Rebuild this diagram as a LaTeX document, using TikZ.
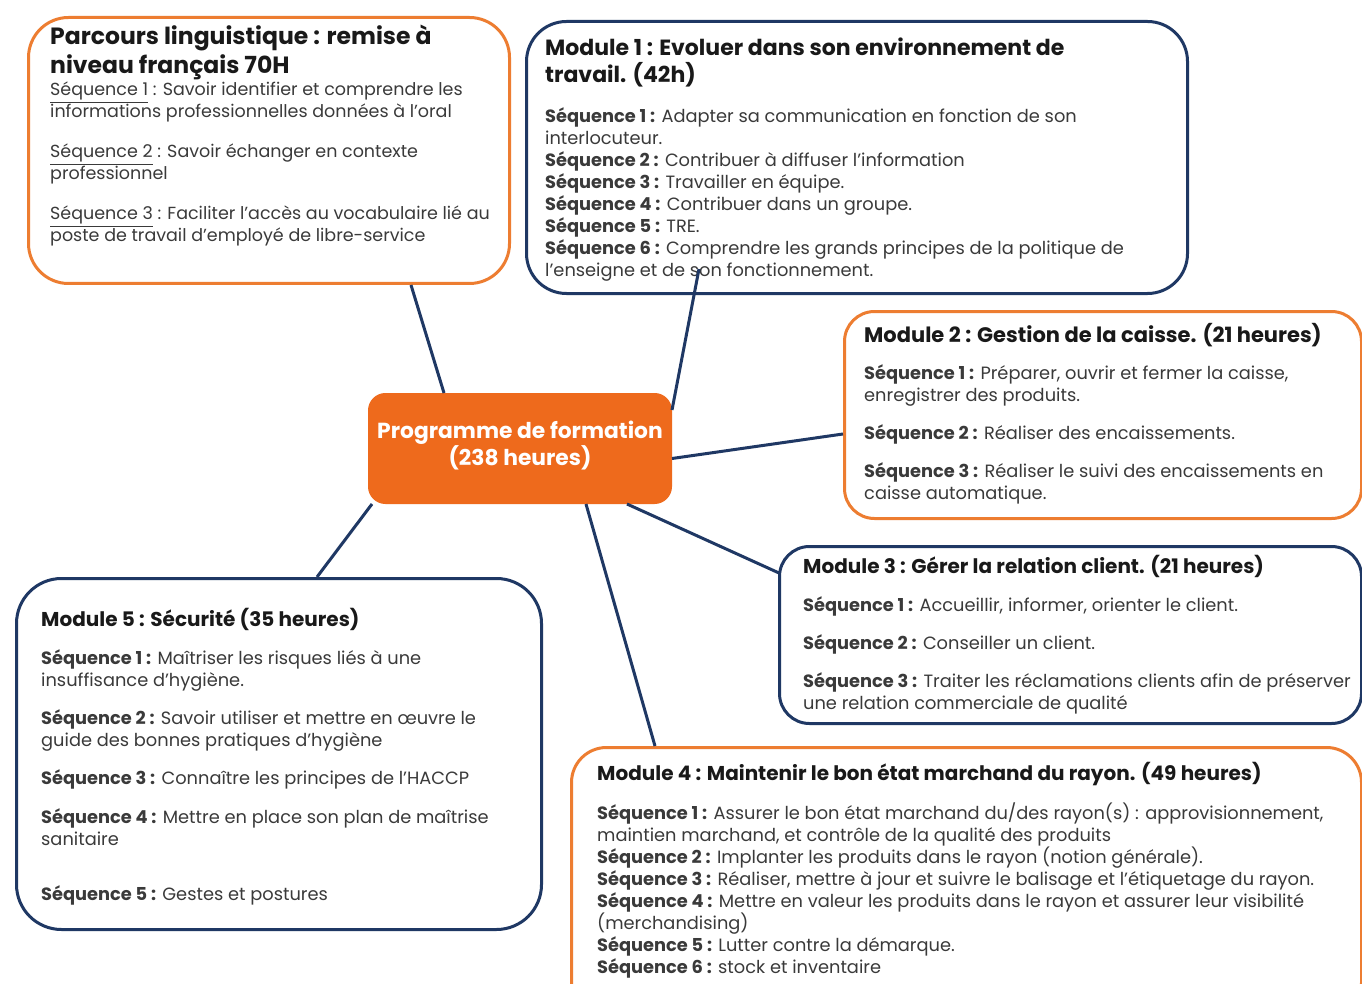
\documentclass[tikz,border=0pt]{standalone}
\usepackage{fontspec}
\setmainfont{Poppins}
\usetikzlibrary{positioning}
\definecolor{orng}{RGB}{237,125,49}
\definecolor{navy}{RGB}{31,56,100}
\definecolor{prog}{RGB}{238,106,28}
\definecolor{ink}{RGB}{58,58,58}
\newcommand{\seq}[1]{\textbf{Séquence #1 :}}
\newcommand{\useq}[1]{\underline{Séquence #1} :}
\tikzset{
  module/.style={draw, line width=3pt, fill=white, inner sep=0pt, anchor=north west},
  orbox/.style={module, draw=orng},
  blbox/.style={module, draw=navy},
  title/.style={anchor=north west, inner sep=0pt, align=left, text=black!90,
    font=\bfseries\fontsize{20}{27}\selectfont},
  body/.style={anchor=north west, inner sep=0pt, align=left, text=ink,
    font=\fontsize{17.8}{22}\selectfont},
  link/.style={draw=navy, line width=3pt},
}

\begin{document}
\begin{tikzpicture}[x=1pt,y=-1pt]
\useasboundingbox (0,0) rectangle (1362,984);
\clip (0,0) rectangle (1362,984);
\fill[white] (0,0) rectangle (1362,984);

% boxes
\node[orbox, rounded corners=40pt, minimum width=481pt, minimum height=266pt] (parcours) at (27,16) {};
\node[blbox, rounded corners=40pt, minimum width=661pt, minimum height=272pt] (m1) at (525,20) {};
\node[orbox, rounded corners=30pt, minimum width=517pt, minimum height=207pt] (m2) at (843,310) {};
\node[blbox, rounded corners=30pt, minimum width=582pt, minimum height=177pt] (m3) at (778,545) {};
\node[orbox, rounded corners=35pt, minimum width=790pt, minimum height=270pt] (m4) at (570,746) {};
\node[blbox, rounded corners=45pt, minimum width=525pt, minimum height=351pt] (m5) at (15,577) {};
\node[module, draw=prog, fill=prog, rounded corners=16pt, minimum width=301pt, minimum height=108pt] (prog) at (368,393) {};

% texts
\node[title, font=\bfseries\fontsize{23.5}{29}\selectfont] (parcours-t) at ([shift={(23,9)}]parcours.north west)
  {Parcours linguistique : remise à\\niveau français 70H};
\node[body, font=\fontsize{17.5}{22}\selectfont] (parcours-b) at ([shift={(23,66)}]parcours.north west)
  {\useq{1} Savoir identifier et comprendre les\\
   informations professionnelles données à l’oral\\[18pt]
   \useq{2} Savoir échanger en contexte\\
   professionnel\\[18pt]
   \useq{3} Faciliter l’accès au vocabulaire lié au\\
   poste de travail d’employé de libre-service};

\node[title, font=\bfseries\fontsize{22}{27}\selectfont] (m1-t) at ([shift={(20,18)}]m1.north west)
  {Module 1 : Evoluer dans son environnement de\\travail. (42h)};
\node[body] (m1-b) at ([shift={(20,87)}]m1.north west)
  {\seq{1} Adapter sa communication en fonction de son\\
   interlocuteur.\\
   \seq{2} Contribuer à diffuser l’information\\
   \seq{3} Travailler en équipe.\\
   \seq{4} Contribuer dans un groupe.\\
   \seq{5} TRE.\\
   \seq{6} Comprendre les grands principes de la politique de\\
   l’enseigne et de son fonctionnement.};

\node[title, font=\bfseries\fontsize{21}{27}\selectfont] (m2-t) at ([shift={(21,13)}]m2.north west)
  {Module 2 : Gestion de la caisse. (21 heures)};
\node[body] (m2-b) at ([shift={(21,54)}]m2.north west)
  {\seq{1} Préparer, ouvrir et fermer la caisse,\\
   enregistrer des produits.\\[16pt]
   \seq{2} Réaliser des encaissements.\\[16pt]
   \seq{3} Réaliser le suivi des encaissements en\\
   caisse automatique.};

\node[title] (m3-t) at ([shift={(25,10)}]m3.north west)
  {Module 3 : Gérer la relation client. (21 heures)};
\node[body] (m3-b) at ([shift={(25,51)}]m3.north west)
  {\seq{1} Accueillir, informer, orienter le client.\\[16pt]
   \seq{2} Conseiller un client.\\[16pt]
   \seq{3} Traiter les réclamations clients afin de préserver\\
   une relation commerciale de qualité};

\node[title] (m4-t) at ([shift={(27,16)}]m4.north west)
  {Module 4 : Maintenir le bon état marchand du rayon. (49 heures)};
\node[body] (m4-b) at ([shift={(27,57)}]m4.north west)
  {\seq{1} Assurer le bon état marchand du/des rayon(s) : approvisionnement,\\
   maintien marchand, et contrôle de la qualité des produits\\
   \seq{2} Implanter les produits dans le rayon (notion générale).\\
   \seq{3} Réaliser, mettre à jour et suivre le balisage et l’étiquetage du rayon.\\
   \seq{4} Mettre en valeur les produits dans le rayon et assurer leur visibilité\\
   (merchandising)\\
   \seq{5} Lutter contre la démarque.\\
   \seq{6} stock et inventaire};

\node[title] (m5-t) at ([shift={(26,31)}]m5.north west)
  {Module 5 : Sécurité (35 heures)};
\node[body] (m5-b) at ([shift={(26,72)}]m5.north west)
  {\seq{1} Maîtriser les risques liés à une\\
   insuffisance d’hygiène.\\[16pt]
   \seq{2} Savoir utiliser et mettre en œuvre le\\
   guide des bonnes pratiques d’hygiène\\[16pt]
   \seq{3} Connaître les principes de l’HACCP\\[17pt]
   \seq{4} Mettre en place son plan de maîtrise\\
   sanitaire\\[33pt]
   \seq{5} Gestes et postures};

\node[align=center, text=white, font=\bfseries\fontsize{21.8}{27}\selectfont] (prog-t) at ([shift={(0,-3)}]prog.center)
  {Programme de formation\\(238 heures)};

% links
\draw[link] ([shift={(-76,0)}]prog.north) -- ([shift={(142,0)}]parcours.south);
\draw[link] ([shift={(0,17)}]prog.north east) -- ([shift={(-158,-26)}]m1.south);
\draw[link] ([shift={(0,10)}]prog.east) -- ([shift={(0,19)}]m2.west);
\draw[link] ([shift={(107,0)}]prog.south) -- ([shift={(1,28)}]m3.north west);
\draw[link] ([shift={(66,0)}]prog.south) -- ([shift={(85,0)}]m4.north west);
\draw[link] ([shift={(4,0)}]prog.south west) -- ([shift={(38,0)}]m5.north);
\end{tikzpicture}
\end{document}
